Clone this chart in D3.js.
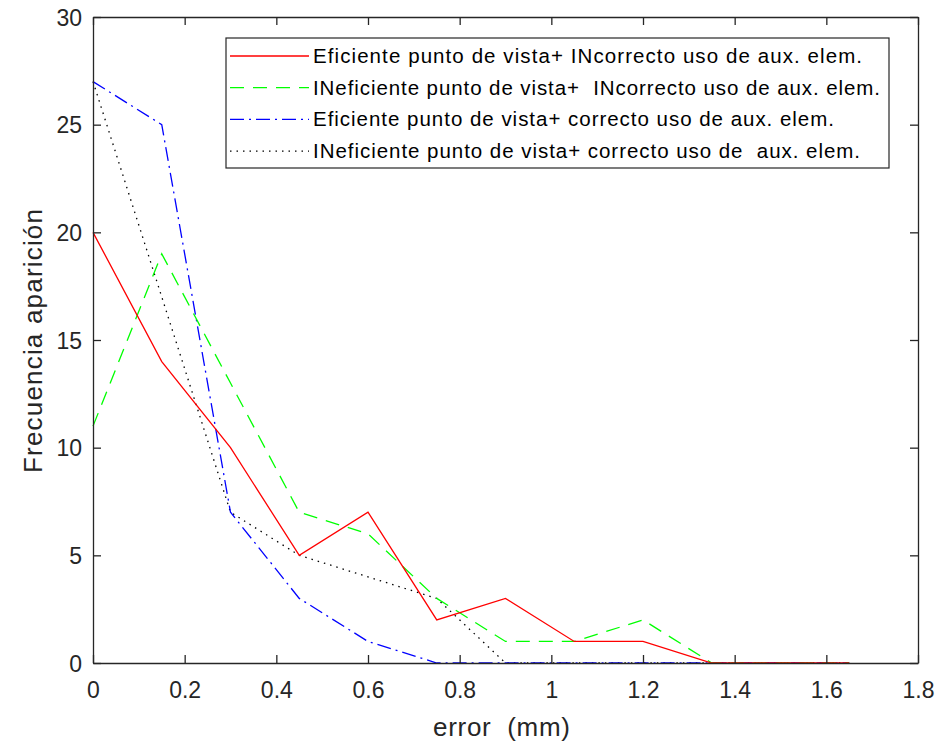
<!DOCTYPE html>
<html><head><meta charset="utf-8">
<script src="https://cdn.jsdelivr.net/npm/d3@7"></script>
<style>body{margin:0;background:#fff}svg{display:block}text{font-family:"Liberation Sans",Arial,sans-serif}</style>
</head><body><svg id="c" width="949" height="743"></svg>
<script>
const xValues = [0, 0.15, 0.30, 0.45, 0.60, 0.75, 0.90, 1.05, 1.20, 1.35, 1.50, 1.65];
const seriesNames = [
  "Eficiente punto de vista+ INcorrecto uso de aux. elem.",
  "INeficiente punto de vista+  INcorrecto uso de aux. elem.",
  "Eficiente punto de vista+ correcto uso de aux. elem.",
  "INeficiente punto de vista+ correcto uso de  aux. elem."
];
const redValues   = [20, 14, 10, 5, 7, 2, 3, 1, 1, 0, 0, 0];
const greenValues = [11, 19, 13, 7, 6, 3, 1, 1, 2, 0, 0, 0];
const blueValues  = [27, 25, 7, 3, 1, 0, 0, 0, 0, 0, 0, 0];
const blackValues = [27, 17, 7, 5, 4, 3, 0, 0, 0, 0, 0, 0];
const xTicks = [0, 0.2, 0.4, 0.6, 0.8, 1, 1.2, 1.4, 1.6, 1.8];
const yTicks = [0, 5, 10, 15, 20, 25, 30];

const series = [
  {name: seriesNames[0], values: redValues, color: "#ff0000", dash: null, w: 549},
  {name: seriesNames[1], values: greenValues, color: "#00ff00", dash: "14,9", w: 567},
  {name: seriesNames[2], values: blueValues, color: "#0000ff", dash: "14,5,2,5", w: 521},
  {name: seriesNames[3], values: blackValues, color: "#000000", dash: "1.5,5", w: 547}
];

const L = 93, R = 918, T = 17, B = 663;
const svg = d3.select("#c");
const x = d3.scaleLinear().domain([0, 1.8]).range([L, R]);
const y = d3.scaleLinear().domain([0, 30]).range([B, T]);
const axisColor = "#262626";

const line = d3.line().x((d, i) => x(xValues[i])).y(d => y(d));
const lines = svg.append("g");
series.slice().reverse().forEach(s => {
  lines.append("path").datum(s.values).attr("d", line)
    .attr("fill", "none").attr("stroke", s.color).attr("stroke-width", 1.3)
    .attr("stroke-dasharray", s.dash);
});

// axes
const fs = "23px";
const gx = svg.append("g").attr("transform", `translate(0,${B})`)
  .call(d3.axisBottom(x).tickValues(xTicks).tickFormat(d3.format("~g")).tickSizeInner(-8).tickSizeOuter(0));
gx.selectAll("text").attr("y", 35).attr("dy", 0);
const gxt = svg.append("g").attr("transform", `translate(0,${T})`)
  .call(d3.axisTop(x).tickValues(xTicks).tickFormat("").tickSizeInner(-8).tickSizeOuter(0));
const gy = svg.append("g").attr("transform", `translate(${L},0)`)
  .call(d3.axisLeft(y).tickValues(yTicks).tickFormat(d3.format("~g")).tickSizeInner(-8).tickSizeOuter(0));
gy.selectAll("text").attr("x", -11).attr("dy", "0.36em");
const gyr = svg.append("g").attr("transform", `translate(${R},0)`)
  .call(d3.axisRight(y).tickValues(yTicks).tickFormat("").tickSizeInner(-8).tickSizeOuter(0));
[gx, gxt, gy, gyr].forEach(g => {
  g.selectAll("path").attr("stroke", axisColor).attr("stroke-width", 1.3);
  g.selectAll("line").attr("stroke", axisColor).attr("stroke-width", 1.3);
  g.selectAll("text").attr("fill", axisColor).style("font-size", fs)
    .style("font-family", "'Liberation Sans', Arial, sans-serif");
});

svg.append("text").attr("x", 433).attr("y", 736)
  .attr("fill", axisColor).style("font-size", "26px").attr("xml:space", "preserve")
  .attr("textLength", 137).attr("lengthAdjust", "spacing").text("error  (mm)");
svg.append("text").attr("transform", `translate(42,473) rotate(-90)`)
  .attr("fill", axisColor).style("font-size", "26px")
  .attr("textLength", 264).attr("lengthAdjust", "spacing").text("Frecuencia aparición");

// legend
const lg = svg.append("g");
const lx = 226, ly = 38, lw = 663, lh = 130;
lg.append("rect").attr("x", lx).attr("y", ly).attr("width", lw).attr("height", lh)
  .attr("fill", "#fff").attr("stroke", axisColor).attr("stroke-width", 1.2);
series.forEach((s, i) => {
  const yy = ly + 18 + i * 31.7;
  lg.append("line").attr("x1", lx + 4).attr("x2", lx + 83).attr("y1", yy).attr("y2", yy)
    .attr("stroke", s.color).attr("stroke-width", 1.3).attr("stroke-dasharray", s.dash);
  lg.append("text").attr("x", lx + 87).attr("y", yy + 7).attr("fill", "#000")
    .style("font-size", "20.5px").attr("xml:space", "preserve")
    .attr("textLength", s.w).attr("lengthAdjust", "spacing").text(s.name);
});
</script></body></html>
